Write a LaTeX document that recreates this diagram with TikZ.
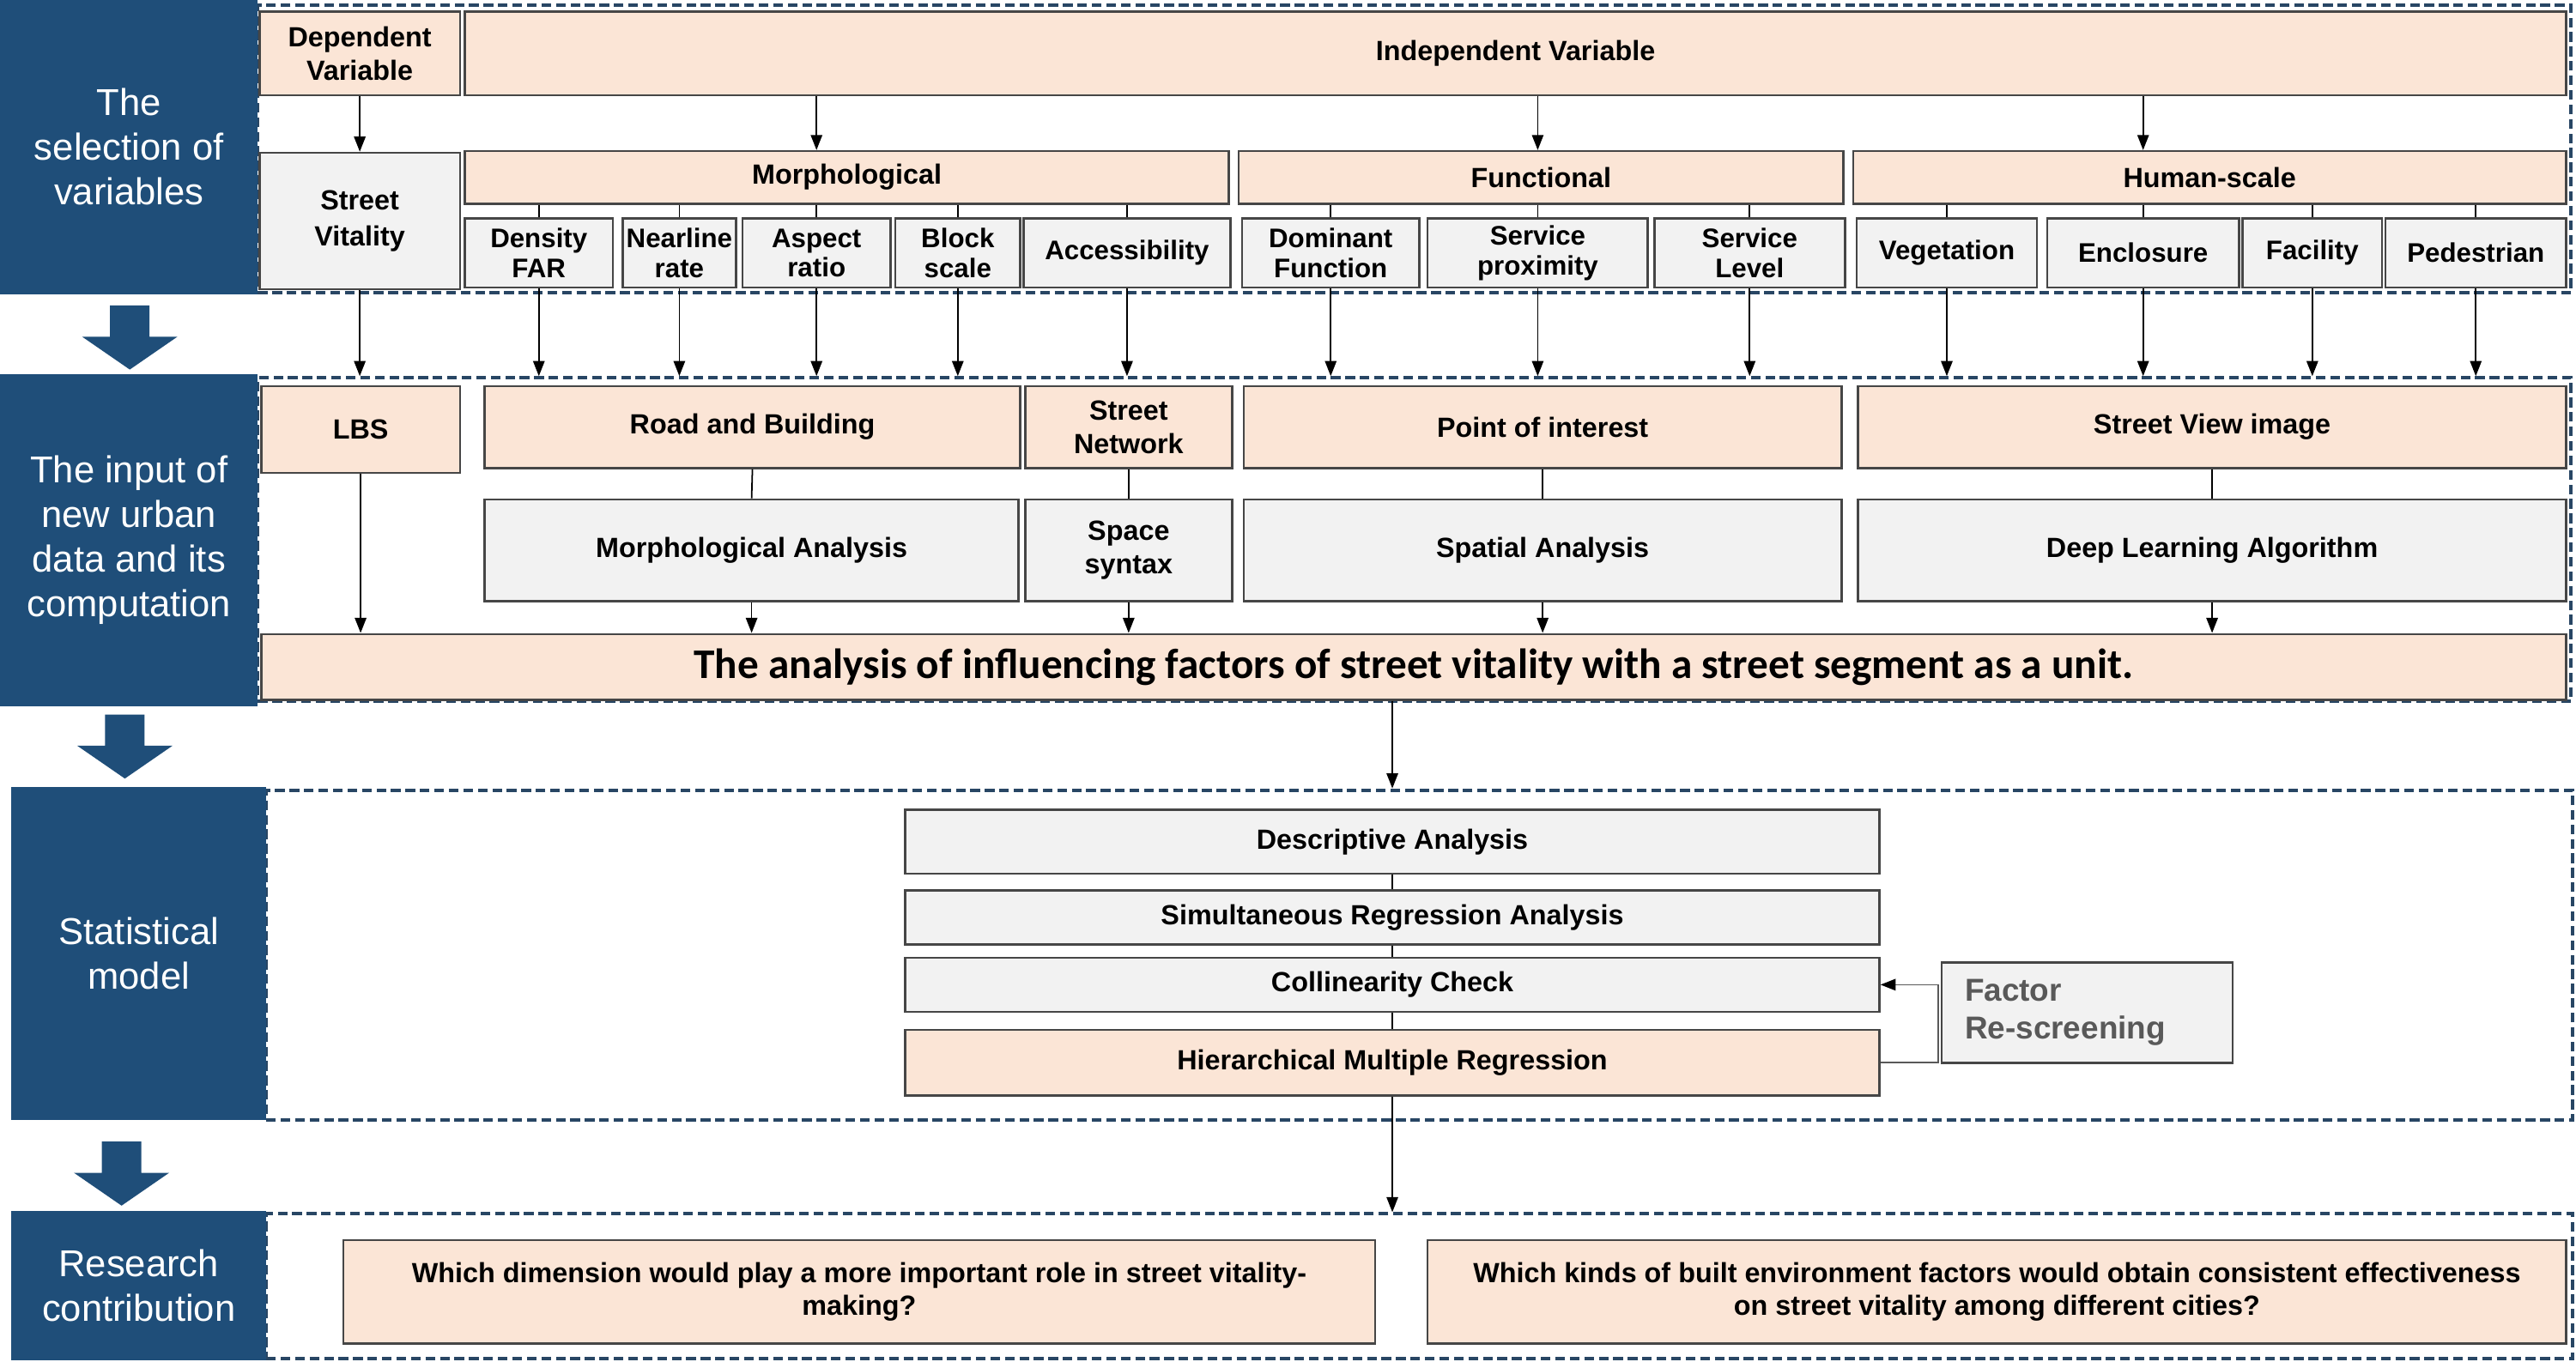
\documentclass[tikz,border=0pt]{standalone}
\usepackage{fontspec}
\setmainfont{Liberation Sans}
\newfontfamily\calfont{Carlito}
\usepackage{tikz}
\usetikzlibrary{arrows.meta}
\usetikzlibrary{fit}
\usepackage{xcolor}
\definecolor{sideblue}{RGB}{31,78,121}
\definecolor{peach}{RGB}{251,229,214}
\definecolor{lgray}{RGB}{242,242,242}
\definecolor{boxline}{RGB}{70,70,70}
\definecolor{framec}{RGB}{40,70,100}
\definecolor{fbgray}{RGB}{89,89,89}
\tikzset{
  sz/.style 2 args={minimum width={#1*0.019139cm}, minimum height={#2*0.019139cm}},
  boxbase/.style={draw=boxline, line width=0.7pt, inner sep=0pt, align=center, font=\bfseries\fontsize{9.2}{11}\selectfont},
  pbox/.style={boxbase, fill=peach},
  gbox/.style={boxbase, fill=lgray},
  subbox/.style={gbox, font=\bfseries\fontsize{8.9}{9.8}\selectfont},
  secframe/.style={draw=framec, line width=1.1pt, dash pattern=on 3.2pt off 1.6pt, inner sep=0pt},
  side/.style={fill=sideblue, inner sep=0pt, text=white, align=center, font=\fontsize{12.4}{14.8}\selectfont},
  arr/.style={-{Triangle[length=5pt,width=3.8pt]}, line width=0.5pt},
  link/.style={line width=0.5pt},
  fb/.style={-{Triangle[length=5pt,width=3.8pt,color=black]}, line width=0.5pt, draw=black!65},
}
\begin{document}
\begin{tikzpicture}[x=0.019139cm, y=-0.019139cm]
\useasboundingbox (0,0) rectangle (1568,828.7);

\node[secframe, fit={(157,3) (1565,178)}] (f1) {};
\node[secframe, fit={(157,230) (1565,427)}] (f2) {};
\node[secframe, fit={(162,481) (1566,682)}] (f3) {};
\node[secframe, fit={(162,739) (1566,827)}] (f4) {};

\node[side, sz={157}{179}] (s1) at (78.5,89.5) {The\\selection of\\variables};
\node[side, sz={157}{202}] (s2) at (78.5,329) {The input of\\new urban\\data and its\\computation};
\node[side, sz={155}{203}] (s3) at (84.5,580.5) {Statistical\\model};
\node[side, sz={155}{91}] (s4) at (84.5,782.5) {Research\\contribution};

\fill[sideblue] (67,186) -- (91,186) -- (91,205) -- (108,205) -- (79,225) -- (50,205) -- (67,205) -- cycle;
\fill[sideblue] (64,435) -- (88,435) -- (88,454) -- (105,454) -- (76,474) -- (47,454) -- (64,454) -- cycle;
\fill[sideblue] (62,695) -- (86,695) -- (86,714) -- (103,714) -- (74,734) -- (45,714) -- (62,714) -- cycle;

\node[pbox, sz={122}{51}] (dep) at (219,32.5) {Dependent\\Variable};
\node[pbox, sz={1279}{51}] (indep) at (922.5,32.5) {Independent Variable};
\node[gbox, sz={122}{83}, font=\bfseries\fontsize{9.2}{12}\selectfont] (vit) at (219,134.5) {Street\\Vitality};
\node[pbox, sz={465}{32}] (morph) at (515.5,108) {Morphological};
\node[pbox, sz={368}{32}] (func) at (938,108) {Functional};
\node[pbox, sz={434}{32}] (hum) at (1345,108) {Human-scale};
\node[subbox, sz={90}{42}] (dens) at (328,154) {Density\\FAR};
\node[subbox, sz={69}{42}] (near) at (413.5,154) {Nearline\\rate};
\node[subbox, sz={90}{42}] (asp) at (497,154) {Aspect\\ratio};
\node[subbox, sz={76}{42}] (blk) at (583,154) {Block\\scale};
\node[subbox, sz={126}{42}] (acc) at (686,154) {Accessibility};
\node[subbox, sz={108}{42}] (dom) at (810,154) {Dominant\\Function};
\node[subbox, sz={134}{42}] (prox) at (936,154) {Service\\proximity};
\node[subbox, sz={116}{42}] (lvl) at (1065,154) {Service\\Level};
\node[subbox, sz={110}{42}] (veg) at (1185,154) {Vegetation};
\node[subbox, sz={117}{42}] (enc) at (1304.5,154) {Enclosure};
\node[subbox, sz={85}{42}] (fac) at (1407.5,154) {Facility};
\node[subbox, sz={110}{42}] (ped) at (1507,154) {Pedestrian};

\draw[arr] (dep.south) -- (vit.north);
\draw[arr] (indep.south -| asp.north) -- (morph.north -| asp.north);
\draw[arr] (indep.south -| prox.north) -- (func.north -| prox.north);
\draw[arr] (indep.south -| enc.north) -- (hum.north -| enc.north);
\draw[link] (morph.south -| dens.north) -- (dens.north);
\draw[link] (morph.south -| near.north) -- (near.north);
\draw[link] (morph.south -| asp.north) -- (asp.north);
\draw[link] (morph.south -| blk.north) -- (blk.north);
\draw[link] (morph.south -| acc.north) -- (acc.north);
\draw[link] (func.south -| dom.north) -- (dom.north);
\draw[link] (func.south -| prox.north) -- (prox.north);
\draw[link] (func.south -| lvl.north) -- (lvl.north);
\draw[link] (hum.south -| veg.north) -- (veg.north);
\draw[link] (hum.south -| enc.north) -- (enc.north);
\draw[link] (hum.south -| fac.north) -- (fac.north);
\draw[link] (hum.south -| ped.north) -- (ped.north);

\draw[arr] (vit.south) -- (vit.south |- f2.north);
\draw[arr] (dens.south) -- (dens.south |- f2.north);
\draw[arr] (near.south) -- (near.south |- f2.north);
\draw[arr] (asp.south) -- (asp.south |- f2.north);
\draw[arr] (blk.south) -- (blk.south |- f2.north);
\draw[arr] (acc.south) -- (acc.south |- f2.north);
\draw[arr] (dom.south) -- (dom.south |- f2.north);
\draw[arr] (prox.south) -- (prox.south |- f2.north);
\draw[arr] (lvl.south) -- (lvl.south |- f2.north);
\draw[arr] (veg.south) -- (veg.south |- f2.north);
\draw[arr] (enc.south) -- (enc.south |- f2.north);
\draw[arr] (fac.south) -- (fac.south |- f2.north);
\draw[arr] (ped.south) -- (ped.south |- f2.north);

\node[pbox, sz={121}{53}] (lbs) at (219.5,261.5) {LBS};
\node[pbox, sz={326}{50}] (road) at (458,260) {Road and Building};
\node[pbox, sz={126}{50}] (net) at (687,260) {Street\\Network};
\node[pbox, sz={364}{50}] (poi) at (939,260) {Point of interest};
\node[pbox, sz={431}{50}] (svi) at (1346.5,260) {Street View image};
\node[gbox, sz={325}{62}] (mana) at (457.5,335) {Morphological Analysis};
\node[gbox, sz={126}{62}] (syn) at (687,335) {Space\\syntax};
\node[gbox, sz={364}{62}] (sana) at (939,335) {Spatial Analysis};
\node[gbox, sz={431}{62}] (dla) at (1346.5,335) {Deep Learning Algorithm};
\node[pbox, sz={1403}{40}, font=\calfont\bfseries\fontsize{14}{16}\selectfont] (big) at (860.5,406) {The analysis of influencing factors of street vitality with a street segment as a unit.};

\draw[arr] (lbs.south) -- (lbs.south |- big.north);
\draw[link] (road.south) -- (mana.north);
\draw[arr] (mana.south) -- (mana.south |- big.north);
\draw[link] (net.south) -- (syn.north);
\draw[arr] (syn.south) -- (syn.south |- big.north);
\draw[link] (poi.south) -- (sana.north);
\draw[arr] (sana.south) -- (sana.south |- big.north);
\draw[link] (svi.south) -- (dla.north);
\draw[arr] (dla.south) -- (dla.south |- big.north);

\node[gbox, sz={593}{39}] (desc) at (847.5,512.5) {Descriptive Analysis};
\node[gbox, sz={593}{33}] (sim) at (847.5,558.5) {Simultaneous Regression Analysis};
\node[gbox, sz={593}{33}] (col) at (847.5,599.5) {Collinearity Check};
\node[pbox, sz={593}{40}] (hier) at (847.5,647) {Hierarchical Multiple Regression};
\node[gbox, sz={177}{61}, text width=2.85cm, align=left, text=fbgray, font=\bfseries\fontsize{10.5}{12.5}\selectfont] (rescr) at (1270.5,616.5) {Factor\\Re-screening};

\draw[arr] (big.south -| desc.north) -- (f3.north -| desc.north);
\draw[link] (desc.south) -- (sim.north);
\draw[link] (sim.south) -- (col.north);
\draw[link] (col.south) -- (hier.north);
\draw[fb] (hier.east) -- ++(35,0) |- (col.east);
\draw[arr] (hier.south) -- (hier.south |- f4.north);

\node[pbox, sz={628}{63}] (q1) at (523,786.5) {Which dimension would play a more important role in street vitality-\\making?};
\node[pbox, sz={693}{63}] (q2) at (1215.5,786.5) {Which kinds of built environment factors would obtain consistent effectiveness\\on street vitality among different cities?};

\end{tikzpicture}
\end{document}
